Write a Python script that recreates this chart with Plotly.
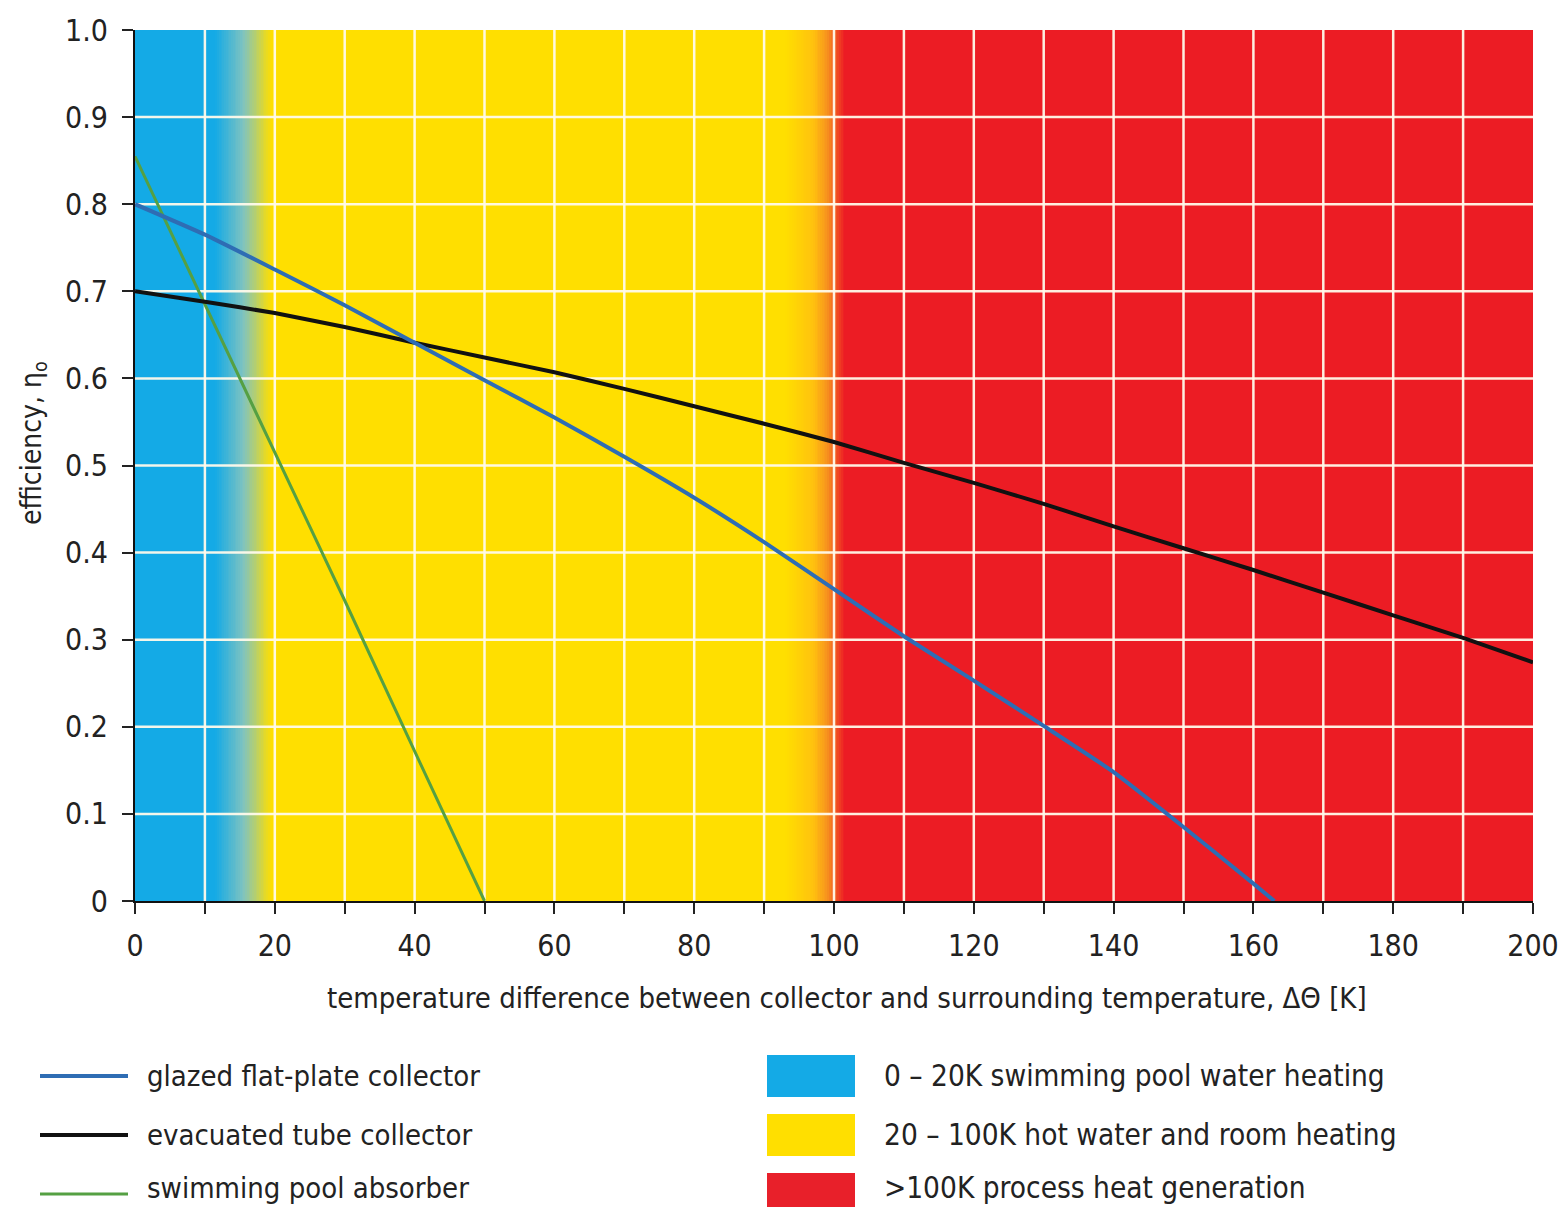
import numpy as np
import plotly.graph_objects as go

# ---------------- data ----------------
dT_flat = [0, 10, 20, 30, 40, 50, 60, 70, 80, 90, 100, 110, 120, 130, 140, 150, 160, 163]
eta_flat = [0.80, 0.765, 0.725, 0.684, 0.641, 0.598, 0.555, 0.51, 0.463, 0.412, 0.358, 0.304,
            0.253, 0.201, 0.148, 0.085, 0.02, 0.0]

dT_evac = [0, 10, 20, 30, 40, 50, 60, 70, 80, 90, 100, 110, 120, 130, 140, 150, 160, 170, 180, 190, 200]
eta_evac = [0.70, 0.688, 0.675, 0.659, 0.641, 0.624, 0.607, 0.588, 0.568, 0.548, 0.527, 0.503,
            0.48, 0.456, 0.43, 0.405, 0.38, 0.354, 0.328, 0.302, 0.274]

dT_pool = [0, 10, 20, 30, 40, 50]
eta_pool = [0.855, 0.685, 0.515, 0.345, 0.172, 0.0]

x_ticks = [0, 20, 40, 60, 80, 100, 120, 140, 160, 180, 200]
y_ticks = [0, 0.1, 0.2, 0.3, 0.4, 0.5, 0.6, 0.7, 0.8, 0.9, 1.0]
y_tick_labels = ["0", "0.1", "0.2", "0.3", "0.4", "0.5", "0.6", "0.7", "0.8", "0.9", "1.0"]
grid_x = [10, 20, 30, 40, 50, 60, 70, 80, 90, 100, 110, 120, 130, 140, 150, 160, 170, 180, 190]
grid_y = [0.1, 0.2, 0.3, 0.4, 0.5, 0.6, 0.7, 0.8, 0.9]

zone_labels = ["0 – 20K swimming pool water heating",
               "20 – 100K hot water and room heating",
               ">100K process heat generation"]
series_labels = ["glazed flat-plate collector", "evacuated tube collector", "swimming pool absorber"]

# ---------------- styling ----------------
C_BLUE_ZONE = "#14aae6"
C_YELLOW = "#ffdf00"
C_ORANGE = "#f7931e"
C_RED = "#ec1c24"
C_FLAT = "#2e6db4"
C_EVAC = "#111111"
C_POOL = "#55a043"
FONT = "Liberation Sans Narrow, DejaVu Sans Condensed, Roboto, sans-serif"
TXT = "#222222"

OFF = 8  # default page body margin
W, H = 1568 - 2 * OFF, 1215 - 2 * OFF
PL, PR, PT, PB = 135, 1533, 30, 901  # plot area in page pixels
L, T = PL - OFF, PT - OFF
R = W - (PR - OFF)
B = H - (PB - OFF)
PW, PH = PR - PL, PB - PT


def px(x):
    return (x - PL) / PW


def py(y):
    return (PB - y) / PH


fig = go.Figure()

# background gradient (zones)
edges = np.linspace(0, 200, 801)
mids = (edges[:-1] + edges[1:]) / 2
fig.add_trace(go.Heatmap(
    x=edges, y=[0, 1], z=[mids],
    zmin=0, zmax=200,
    colorscale=[[0, C_BLUE_ZONE], [11.5 / 200, C_BLUE_ZONE], [15.5 / 200, "#7fc3c0"], [19.5 / 200, C_YELLOW],
                [93 / 200, C_YELLOW], [97 / 200, "#ffc20e"], [99 / 200, C_ORANGE], [101.5 / 200, C_RED],
                [1, C_RED]],
    showscale=False, hoverinfo="skip",
))

# white grid
gx, gy = [], []
for v in grid_x:
    gx += [v, v, None]
    gy += [0, 1, None]
for v in grid_y:
    gx += [0, 200, None]
    gy += [v, v, None]
fig.add_trace(go.Scatter(x=gx, y=gy, mode="lines", line=dict(color="rgba(255,250,235,0.95)", width=2.5),
                         hoverinfo="skip", showlegend=False))

# data lines
fig.add_trace(go.Scatter(x=dT_pool, y=eta_pool, mode="lines", name=series_labels[2],
                         line=dict(color=C_POOL, width=3), showlegend=False))
fig.add_trace(go.Scatter(x=dT_evac, y=eta_evac, mode="lines", name=series_labels[1],
                         line=dict(color=C_EVAC, width=4, shape="spline", smoothing=0.5), showlegend=False))
fig.add_trace(go.Scatter(x=dT_flat, y=eta_flat, mode="lines", name=series_labels[0],
                         line=dict(color=C_FLAT, width=4, shape="spline", smoothing=0.5), showlegend=False))

fig.update_xaxes(range=[0, 200], tickvals=x_ticks, ticks="outside", ticklen=11, tickwidth=2,
                 tickcolor="#222", showgrid=False, zeroline=False, showline=True, linecolor="#111",
                 linewidth=2, tickfont=dict(family=FONT, size=30, color=TXT), ticklabelstandoff=6,
                 minor=dict(dtick=10, tick0=0, ticks="outside", ticklen=11, tickwidth=2, tickcolor="#222",
                            showgrid=False))
fig.update_yaxes(range=[0, 1], tickvals=y_ticks, ticktext=y_tick_labels, ticks="outside", ticklen=11,
                 tickwidth=2, tickcolor="#222", showgrid=False, zeroline=False, showline=True,
                 linecolor="#111", linewidth=2, tickfont=dict(family=FONT, size=30, color=TXT),
                 ticklabelstandoff=8)

annotations = [
    dict(x=px(847), y=py(998), xref="paper", yref="paper", showarrow=False,
         text="temperature difference between collector and surrounding temperature, ΔΘ [K]",
         font=dict(family=FONT, size=29, color=TXT), xanchor="center", yanchor="middle"),
    dict(x=px(33), y=py(443), xref="paper", yref="paper", showarrow=False,
         text="efficiency, η<sub>o</sub>", textangle=-90,
         font=dict(family=FONT, size=28, color=TXT), xanchor="center", yanchor="middle"),
]
shapes = []
rows = [1076, 1135, 1194]
text_rows = [1076, 1135, 1188]
line_cols = [C_FLAT, C_EVAC, C_POOL]
line_w = [4, 4, 3]
box_cols = [C_BLUE_ZONE, C_YELLOW, "#e8202a"]
for i, yy in enumerate(rows):
    ty = text_rows[i]
    shapes.append(dict(type="line", xref="paper", yref="paper", x0=px(40), x1=px(128), y0=py(yy), y1=py(yy),
                       line=dict(color=line_cols[i], width=line_w[i])))
    annotations.append(dict(x=px(145), y=py(ty), xref="paper", yref="paper", showarrow=False,
                            text=series_labels[i], xanchor="left", yanchor="middle",
                            font=dict(family=FONT, size=29, color=TXT)))
    shapes.append(dict(type="rect", xref="paper", yref="paper", x0=px(767), x1=px(855),
                       y0=py(yy - 21), y1=py(yy + 21), fillcolor=box_cols[i], line=dict(width=0)))
    annotations.append(dict(x=px(882), y=py(ty), xref="paper", yref="paper", showarrow=False,
                            text=zone_labels[i], xanchor="left", yanchor="middle",
                            font=dict(family=FONT, size=29.5, color=TXT)))

fig.update_layout(width=W, height=H, margin=dict(l=L, r=R, t=T, b=B, autoexpand=False),
                  paper_bgcolor="white", plot_bgcolor="white", showlegend=False,
                  annotations=annotations, shapes=shapes, font=dict(family=FONT, color=TXT))

fig.write_html("out.html")
